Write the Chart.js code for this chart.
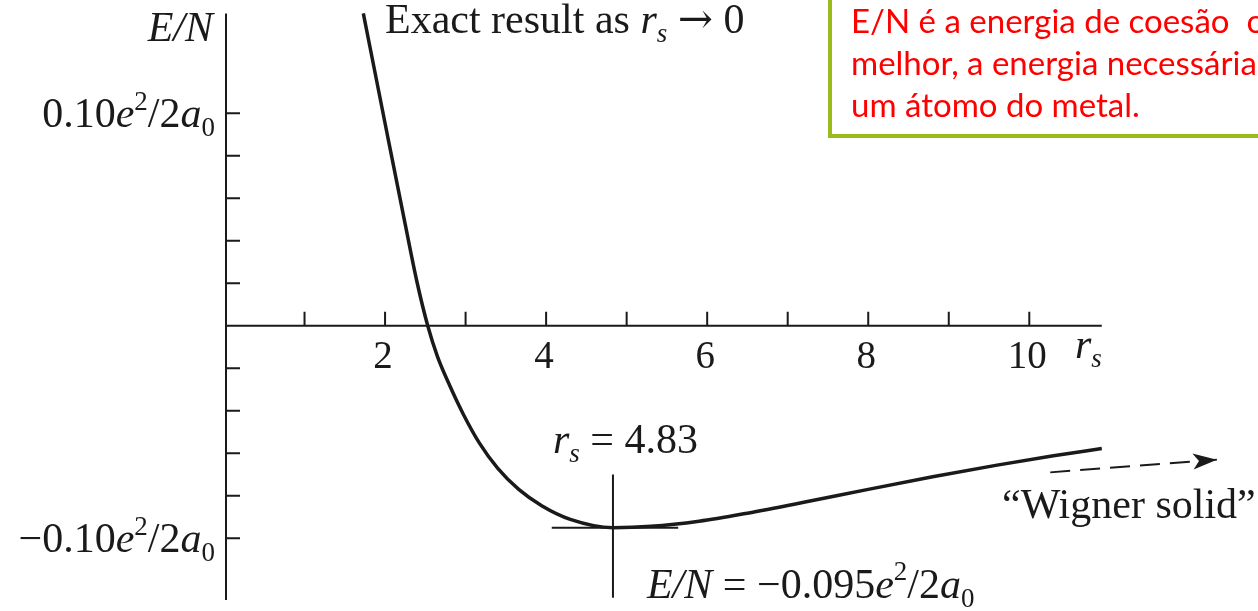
<!DOCTYPE html>
<html>
<head>
<meta charset="utf-8">
<title>E/N vs r_s</title>
<script src="https://cdn.jsdelivr.net/npm/chart.js@4.4.1/dist/chart.umd.min.js"></script>
<style>
  html, body { margin: 0; padding: 0; background: #fff; }
  canvas { display: block; }
</style>
</head>
<body>
<canvas id="energy-chart" width="1258" height="611"></canvas>
<script>
// energy per electron of the electron gas against r_s (units of e^2/2a0)
const rsValues = [1.73, 2.00, 2.25, 2.40, 2.53, 2.65, 2.80, 2.97, 3.17, 3.40, 3.66, 3.95, 4.30, 4.83,
                  5.30, 5.90, 6.50, 7.20, 8.00, 8.80, 9.60, 10.30, 10.90];
const energyValues = [0.147, 0.0953, 0.0478, 0.0200, 0.0, -0.0144, -0.0279, -0.0415, -0.0551, -0.0671, -0.0770, -0.0848, -0.0911, -0.095,
                      -0.0944, -0.0920, -0.0882, -0.0831, -0.0770, -0.0711, -0.0656, -0.0612, -0.0578];

// minimum marker
const minRs = 4.83;
const minEnergy = -0.095;
const minBarRs = [4.07, 5.64];
const minBarEnergy = [-0.070, -0.128];

// dashed continuation towards the Wigner solid
const wignerRs = [10.26, 12.33];
const wignerEnergy = [-0.069, -0.063];

// axes
const xTickValues = [1, 2, 3, 4, 5, 6, 7, 8, 9, 10];
const xTickLabels = ['', '2', '', '4', '', '6', '', '8', '', '10'];
const yTickValues = [0.10, 0.08, 0.06, 0.04, 0.02, -0.02, -0.04, -0.06, -0.08, -0.10];
const yTickLabels = ['0.10', '', '', '', '', '', '', '', '', '\u22120.10'];
const xAxisEnd = 10.9;
const yAxisTop = 0.147;
const yAxisBottom = -0.129;

const ink = '#1a1a1a';
const serif = '"Liberation Serif", "DejaVu Serif", serif';
const tickSize = 39;
const textSize = 42;

function pts(xs, ys) {
    return xs.map((x, i) => ({ x: x, y: ys[i] }));
}

// draws a run of text pieces: {t, it, sup, sub, fam}
function richText(ctx, parts, x, y, align, size) {
    const fontFor = (p) => {
        const s = (p.sup || p.sub) ? Math.round(size * 0.64) : size;
        return (p.it ? 'italic ' : '') + s + 'px ' + (p.fam || serif);
    };
    let width = 0;
    parts.forEach(p => {
        ctx.font = fontFor(p);
        width += ctx.measureText(p.t).width;
    });
    let cx = align === 'right' ? x - width : (align === 'center' ? x - width / 2 : x);
    ctx.textAlign = 'left';
    ctx.textBaseline = 'alphabetic';
    parts.forEach(p => {
        ctx.font = fontFor(p);
        let dy = 0;
        if (p.sup) dy = -size * 0.42;
        if (p.sub) dy = size * 0.22;
        ctx.fillText(p.t, cx, y + dy);
        cx += ctx.measureText(p.t).width;
    });
}

function unitParts(num) {
    const parts = [
        { t: 'e', it: true },
        { t: '2', sup: true },
        { t: '/2' },
        { t: 'a', it: true },
        { t: '0', sub: true }
    ];
    return num ? [{ t: num }].concat(parts) : parts;
}

const axesPlugin = {
    id: 'axesPlugin',
    afterDatasetsDraw(chart) {
        const ctx = chart.ctx;
        const xs = chart.scales.x;
        const ys = chart.scales.y;
        const x0 = xs.getPixelForValue(0);
        const y0 = ys.getPixelForValue(0);

        ctx.save();
        ctx.strokeStyle = ink;
        ctx.fillStyle = ink;
        ctx.lineWidth = 2;

        // axis lines
        ctx.beginPath();
        ctx.moveTo(x0 + 2, ys.getPixelForValue(yAxisTop));
        ctx.lineTo(x0 + 2, ys.getPixelForValue(yAxisBottom));
        ctx.moveTo(x0 + 2, y0);
        ctx.lineTo(xs.getPixelForValue(xAxisEnd), y0);
        ctx.stroke();

        // ticks point inwards
        ctx.beginPath();
        xTickValues.forEach(v => {
            const px = xs.getPixelForValue(v);
            ctx.moveTo(px, y0);
            ctx.lineTo(px, y0 - 14);
        });
        yTickValues.forEach(v => {
            const py = ys.getPixelForValue(v);
            ctx.moveTo(x0 + 2, py);
            ctx.lineTo(x0 + 16, py);
        });
        ctx.stroke();

        xTickValues.forEach((v, i) => {
            if (!xTickLabels[i]) return;
            richText(ctx, [{ t: xTickLabels[i] }], xs.getPixelForValue(v) - 2, y0 + 42, 'center', tickSize);
        });
        yTickValues.forEach((v, i) => {
            if (!yTickLabels[i]) return;
            richText(ctx, unitParts(yTickLabels[i]), x0 - 9, ys.getPixelForValue(v) + 14, 'right', textSize);
        });

        // axis titles
        richText(ctx, [{ t: 'E/N', it: true }], x0 - 11, 41, 'right', textSize);
        richText(ctx, [{ t: 'r', it: true }, { t: 's', it: true, sub: true }], 1075, y0 + 32, 'left', textSize);

        // annotations
        richText(ctx, [
            { t: 'Exact result as ' },
            { t: 'r', it: true },
            { t: 's', it: true, sub: true },
            { t: ' ' },
            { t: '\u2192', fam: '"DejaVu Serif", serif' },
            { t: ' 0' }
        ], 385, 33, 'left', textSize);

        const mx = xs.getPixelForValue(minRs);
        richText(ctx, [
            { t: 'r', it: true },
            { t: 's', it: true, sub: true },
            { t: ' = ' + minRs.toFixed(2) }
        ], mx - 60, 453, 'left', textSize);

        richText(ctx, [
            { t: 'E/N', it: true },
            { t: ' = \u2212' + Math.abs(minEnergy).toFixed(3) }
        ].concat(unitParts('')), mx + 34, 598, 'left', textSize);

        richText(ctx, [{ t: '\u201CWigner solid\u201D' }], 1002, 518, 'left', textSize);

        // arrow head on the dashed line
        const meta = chart.getDatasetMeta(3);
        const a = meta.data[0], b = meta.data[meta.data.length - 1];
        const ang = Math.atan2(b.y - a.y, b.x - a.x);
        ctx.save();
        ctx.translate(b.x, b.y);
        ctx.rotate(ang);
        ctx.beginPath();
        ctx.moveTo(0, 0);
        ctx.lineTo(-24, -8);
        ctx.lineTo(-18, 0);
        ctx.lineTo(-24, 8);
        ctx.closePath();
        ctx.fill();
        ctx.restore();

        ctx.restore();
    }
};

const notePlugin = {
    id: 'notePlugin',
    afterDraw(chart) {
        const ctx = chart.ctx;
        ctx.save();
        ctx.fillStyle = '#fff';
        ctx.fillRect(830, 0, 428, 136);
        ctx.strokeStyle = '#9bbb1c';
        ctx.lineWidth = 4;
        ctx.beginPath();
        ctx.moveTo(830, 0);
        ctx.lineTo(830, 136);
        ctx.lineTo(1258, 136);
        ctx.stroke();

        ctx.fillStyle = '#ff0000';
        ctx.font = '33px Lato, "Open Sans", sans-serif';
        ctx.textAlign = 'left';
        ctx.textBaseline = 'alphabetic';
        ctx.fillText('E/N \u00e9 a energia de coes\u00e3o  ou,', 851, 33);
        ctx.fillText('melhor, a energia necess\u00e1ria para', 851, 75);
        ctx.fillText('um \u00e1tomo do metal.', 851, 117);
        ctx.restore();
    }
};

new Chart(document.getElementById('energy-chart'), {
    type: 'line',
    data: {
        datasets: [
            {
                data: pts(rsValues, energyValues),
                borderColor: ink,
                borderWidth: 3.5,
                pointRadius: 0,
                cubicInterpolationMode: 'monotone'
            },
            {
                data: pts(minBarRs, [minEnergy, minEnergy]),
                borderColor: ink,
                borderWidth: 2,
                pointRadius: 0
            },
            {
                data: pts([minRs, minRs], minBarEnergy),
                borderColor: ink,
                borderWidth: 2,
                pointRadius: 0
            },
            {
                data: pts(wignerRs, wignerEnergy),
                borderColor: ink,
                borderWidth: 2,
                borderDash: [20, 10],
                pointRadius: 0
            }
        ]
    },
    options: {
        responsive: false,
        animation: false,
        layout: { padding: { left: 224, right: 0, top: 7, bottom: 9 } },
        plugins: { legend: { display: false }, tooltip: { enabled: false } },
        scales: {
            x: { type: 'linear', display: false, min: 0, max: 12.84 },
            y: { type: 'linear', display: false, min: -0.13, max: 0.15 }
        }
    },
    plugins: [axesPlugin, notePlugin]
});
</script>
</body>
</html>
